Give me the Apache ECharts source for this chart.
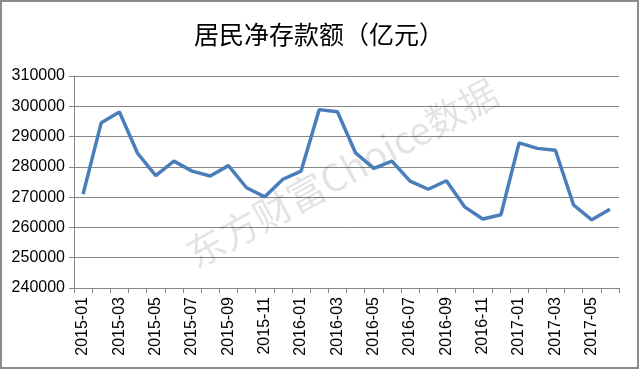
<!DOCTYPE html>
<html>
<head>
<meta charset="utf-8">
<script src="https://cdn.jsdelivr.net/npm/echarts@6/dist/echarts.min.js"></script>
<style>html,body{margin:0;padding:0;background:#fff}#c{width:640px;height:370px}</style>
</head>
<body>
<div id="c"></div>
<script>
const categories = ['2015-01','2015-02','2015-03','2015-04','2015-05','2015-06','2015-07','2015-08','2015-09','2015-10','2015-11','2015-12',
  '2016-01','2016-02','2016-03','2016-04','2016-05','2016-06','2016-07','2016-08','2016-09','2016-10','2016-11','2016-12',
  '2017-01','2017-02','2017-03','2017-04','2017-05','2017-06'];
const deposits = [271000,294600,298100,284500,277100,281900,278600,277000,280400,273100,270100,275900,
  278600,298900,298200,284600,279500,281900,275300,272600,275400,266800,262800,264200,
  287900,286100,285500,267400,262500,266000];
const yMin = 240000, yMax = 310000, yStep = 10000;
const titleText = '居民净存款额（亿元）';
const watermark = '东方财富Choice数据';

const chart = echarts.init(document.getElementById('c'));
chart.setOption({
  animation: false,
  backgroundColor: '#fff',
  title: {
    text: titleText, left: 314, top: 17, textAlign: 'center',
    textStyle: {fontFamily: 'Noto Sans CJK SC', fontSize: 25, fontWeight: 'normal', color: '#000'}
  },
  grid: {left: 74, top: 76, right: 21, bottom: 82},
  xAxis: {
    type: 'category', data: categories, boundaryGap: true,
    axisLine: {lineStyle: {color: '#868686', width: 1}},
    axisTick: {show: true, interval: 0, length: 5, lineStyle: {color: '#868686'}},
    axisLabel: {interval: 1, rotate: 90, fontFamily: 'Liberation Sans', fontSize: 16, color: '#000', margin: 9}
  },
  yAxis: {
    type: 'value', min: yMin, max: yMax, interval: yStep,
    axisLine: {show: true, lineStyle: {color: '#868686'}},
    axisTick: {show: true, length: 5, lineStyle: {color: '#868686'}},
    axisLabel: {fontFamily: 'Liberation Sans', fontSize: 16, color: '#000', margin: 9, formatter: v => String(v)},
    splitLine: {lineStyle: {color: '#868686', width: 1}}
  },
  series: [{
    type: 'line', data: deposits, symbol: 'none',
    lineStyle: {color: '#4a7ebb', width: 3.5}, z: 3
  }],
  graphic: [
    {type: 'rect', shape: {x: 1, y: 1, width: 637, height: 367}, style: {fill: 'none', stroke: '#8c8c8c', lineWidth: 2}, z: 10},
    {type: 'text', x: 342, y: 173, rotation: 0.5, z: 1,
     style: {text: watermark, font: '38px "Noto Sans CJK SC"', fill: 'rgba(0,0,0,0.11)', textAlign: 'center', textVerticalAlign: 'middle'}}
  ]
});
</script>
</body>
</html>
